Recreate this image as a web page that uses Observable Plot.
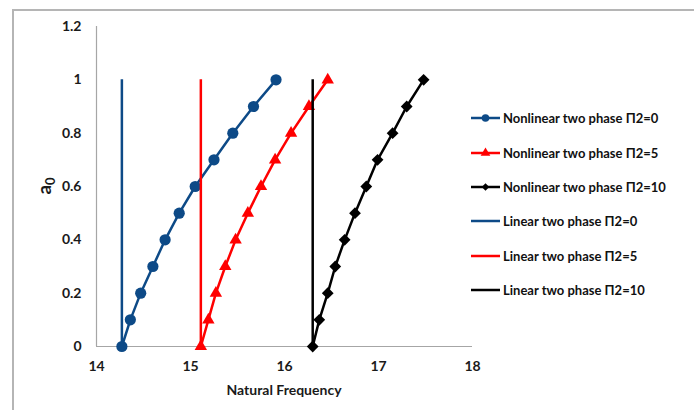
<!DOCTYPE html>
<html>
<head>
<meta charset="utf-8">
<script src="https://cdn.jsdelivr.net/npm/d3@7"></script>
<script src="https://cdn.jsdelivr.net/npm/@observablehq/plot@0.6"></script>
<style>
  html, body { margin: 0; padding: 0; background: #fff; }
  #wrap { position: relative; width: 694px; height: 410px; overflow: hidden; font-family: Lato, "Liberation Sans", sans-serif; }
  #frame { position: absolute; left: 12px; top: 9px; width: 700px; height: 420px; border-top: 2px solid #b5b5b5; border-left: 2px solid #b5b5b5; box-sizing: border-box; }
  #chart { position: absolute; left: 0; top: 0; }
  #legend { position: absolute; left: 471px; top: 101px; }
  .item { display: flex; align-items: center; height: 34.4px; font-weight: bold; font-size: 13px; color: #111; white-space: nowrap; }
  .item svg { margin-right: 2px; }
</style>
</head>
<body>
<div id="wrap">
  <div id="frame"></div>
  <div id="chart"></div>
  <div id="legend"></div>
</div>
<script>
// ---- data ----
const amplitude = [0, 0.1, 0.2, 0.3, 0.4, 0.5, 0.6, 0.7, 0.8, 0.9, 1.0];
const freqNonlinear0  = [14.27, 14.36, 14.47, 14.60, 14.73, 14.88, 15.05, 15.25, 15.45, 15.67, 15.91];
const freqNonlinear5  = [15.11, 15.19, 15.27, 15.37, 15.48, 15.61, 15.75, 15.90, 16.07, 16.26, 16.46];
const freqNonlinear10 = [16.30, 16.37, 16.46, 16.54, 16.64, 16.75, 16.87, 16.99, 17.15, 17.30, 17.48];
const freqLinear = [14.27, 15.11, 16.30];
const linearAmplitudeRange = [0, 1];
const nonlinearNames = ["Nonlinear two phase \u03A02=0", "Nonlinear two phase \u03A02=5", "Nonlinear two phase \u03A02=10"];
const linearNames = ["Linear two phase \u03A02=0", "Linear two phase \u03A02=5", "Linear two phase \u03A02=10"];
const seriesColors = ["#0d4a87", "#ff0000", "#000000"];
const seriesSymbols = ["circle", "triangle", "diamond2"];
const xTicks = [14, 15, 16, 17, 18];
const yTicks = [0, 0.2, 0.4, 0.6, 0.8, 1, 1.2];
const xLabel = "Natural Frequency";

// ---- build tables ----
const nonlinearFreqs = [freqNonlinear0, freqNonlinear5, freqNonlinear10];
const nonlinearRows = nonlinearFreqs.flatMap((f, k) =>
  amplitude.map((a, i) => ({x: f[i], y: a, s: nonlinearNames[k], k})));
const linearRows = freqLinear.map((x, k) => ({x, y1: linearAmplitudeRange[0], y2: linearAmplitudeRange[1], s: linearNames[k], k}));

const fmt = d3.format("~g");
const dotR = [5.6, 4.6, 5.3];
const marks = [
  Plot.ruleX([xTicks[0]], {y1: yTicks[0], y2: yTicks[yTicks.length - 1], stroke: "#a6a6a6", strokeWidth: 1.2}),
  Plot.ruleY([yTicks[0]], {x1: xTicks[0], x2: xTicks[xTicks.length - 1], stroke: "#a6a6a6", strokeWidth: 1.2}),
  Plot.axisX({ticks: xTicks, tickSize: 0, tickPadding: 15, label: null, fontSize: 14, fontWeight: "bold", fill: "#1a1a1a", tickFormat: fmt}),
  Plot.axisY({ticks: yTicks, tickSize: 0, tickPadding: 15, label: null, fontSize: 14, fontWeight: "bold", fill: "#1a1a1a", tickFormat: fmt})
];
[0, 1, 2].forEach(k => {
  const rows = nonlinearRows.filter(d => d.k === k);
  marks.push(Plot.line(rows, {x: "x", y: "y", stroke: seriesColors[k], strokeWidth: 2.5}));
  marks.push(Plot.dot(rows, {x: "x", y: "y", fill: seriesColors[k], stroke: "none", symbol: seriesSymbols[k], r: dotR[k]}));
});
[0, 1, 2].forEach(k => {
  marks.push(Plot.ruleX(linearRows.filter(d => d.k === k), {x: "x", y1: "y1", y2: "y2", stroke: seriesColors[k], strokeWidth: 2.5}));
});

const plot = Plot.plot({
  width: 694,
  height: 410,
  marginLeft: 96,
  marginRight: 222,
  marginTop: 26,
  marginBottom: 64,
  style: {background: "transparent", fontFamily: "Lato, 'Liberation Sans', sans-serif"},
  x: {domain: [xTicks[0], xTicks[xTicks.length - 1]]},
  y: {domain: [yTicks[0], yTicks[yTicks.length - 1]]},
  marks
});
document.getElementById("chart").appendChild(plot);

// axis titles
const svg = d3.select(plot);
svg.append("text")
  .attr("x", 284).attr("y", 395)
  .attr("text-anchor", "middle")
  .attr("font-size", 14).attr("font-weight", "bold").attr("fill", "#1a1a1a")
  .text(xLabel);
const yl = svg.append("text")
  .attr("transform", "translate(51,186) rotate(-90)")
  .attr("text-anchor", "middle")
  .attr("font-size", 19).attr("font-weight", "bold").attr("fill", "#1a1a1a");
yl.append("tspan").text("a");
yl.append("tspan").attr("font-size", 13).attr("dy", 4).text("0");

// legend
const legend = d3.select("#legend");
const entries = [
  ...nonlinearNames.map((n, k) => ({n, k, sym: true})),
  ...linearNames.map((n, k) => ({n, k, sym: false}))
];
const legendR = [3.8, 3.6, 3.4];
entries.forEach(e => {
  const item = legend.append("div").attr("class", "item");
  const s = item.append("svg").attr("width", 30).attr("height", 12);
  s.append("line").attr("x1", 0).attr("x2", 29).attr("y1", 6).attr("y2", 6)
    .attr("stroke", seriesColors[e.k]).attr("stroke-width", 2.5);
  if (e.sym) {
    const type = [d3.symbolCircle, d3.symbolTriangle, d3.symbolDiamond2][e.k];
    s.append("path").attr("transform", "translate(14.5,6)")
      .attr("d", d3.symbol(type, Math.PI * legendR[e.k] * legendR[e.k])())
      .attr("fill", seriesColors[e.k]);
  }
  item.append("span").text(e.n);
});
</script>
</body>
</html>
